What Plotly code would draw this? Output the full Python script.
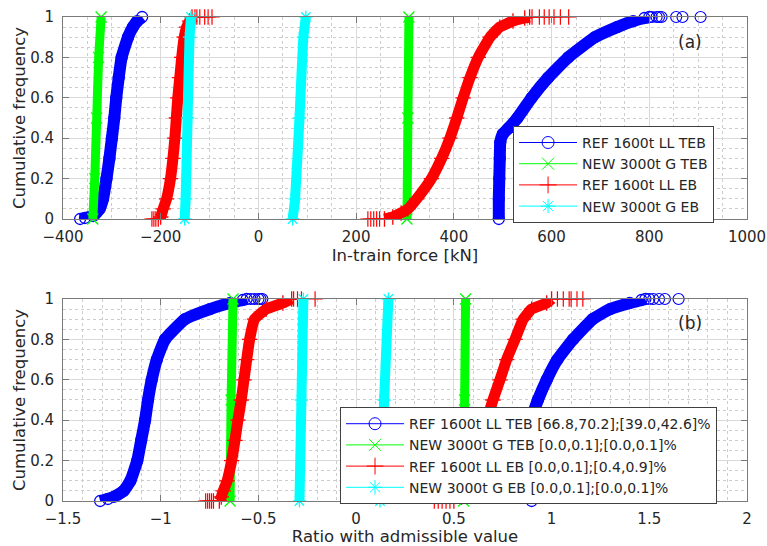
import plotly.graph_objects as go

# ---------------- data ----------------
names = ["REF 1600t LL TEB", "NEW 3000t G TEB", "REF 1600t LL EB", "NEW 3000t G EB"]
names_b = ["REF 1600t LL TEB [66.8,70.2];[39.0,42.6]%",
           "NEW 3000t G TEB [0.0,0.1];[0.0,0.1]%",
           "REF 1600t LL EB [0.0,0.1];[0.4,0.9]%",
           "NEW 3000t G EB [0.0,0.1];[0.0,0.1]%"]

# ---- panel (a): in-train force [kN] ----
a_ref_teb_cmp_cf = [0, 0.005, 0.015, 0.05, 0.1, 0.2, 0.3, 0.4, 0.5, 0.6, 0.7, 0.8, 0.9, 0.95, 0.98, 1]
a_ref_teb_cmp_x = [-365, -355, -338, -325, -318, -311, -305, -300, -295, -291, -286, -280, -267, -257, -248, -238]
a_ref_teb_ten_cf = [0, 0.1, 0.2, 0.3, 0.38, 0.42, 0.45, 0.5, 0.6, 0.7, 0.8, 0.9, 0.95, 0.98, 0.995, 1]
a_ref_teb_ten_x = [492, 492, 493, 494, 495, 500, 512, 530, 559, 593, 634, 689, 734, 767, 790, 800]
a_ref_teb_tail = [805, 815, 820, 825, 855, 868, 905]

a_new_teb_cmp_cf = [0, 0.2, 0.5, 0.8, 1]
a_new_teb_cmp_x = [-339, -335, -331, -327, -322]
a_new_teb_ten_cf = [0, 0.5, 1]
a_new_teb_ten_x = [304, 306, 308]

a_ref_eb_cmp_cf = [0, 0.01, 0.05, 0.1, 0.2, 0.3, 0.4, 0.5, 0.6, 0.7, 0.8, 0.9, 0.95, 0.98, 1]
a_ref_eb_cmp_x = [-205, -200, -195, -188, -180, -175, -171, -168, -165, -161, -157, -152, -147, -141, -136]
a_ref_eb_cmp_head = [-218, -214, -210]
a_ref_eb_cmp_tail = [-130, -126, -120, -110, -103, -95]
a_ref_eb_ten_cf = [0, 0.01, 0.03, 0.05, 0.1, 0.2, 0.3, 0.4, 0.5, 0.6, 0.7, 0.8, 0.9, 0.95, 0.98, 0.995, 1]
a_ref_eb_ten_x = [258, 275, 292, 306, 324, 354, 375, 392, 406, 419, 433, 450, 474, 494, 521, 545, 555]
a_ref_eb_ten_head = [224, 230, 236, 242, 248]
a_ref_eb_ten_tail = [560, 575, 585, 595, 605, 618, 635]

a_new_eb_cmp_cf = [0, 0.1, 0.5, 0.9, 1]
a_new_eb_cmp_x = [-151, -149, -145, -141, -138]
a_new_eb_ten_cf = [0, 0.1, 0.5, 0.9, 1]
a_new_eb_ten_x = [70, 75, 84, 92, 97]

# ---- panel (b): ratio with admissible value ----
b_ref_teb_cmp_cf = [0, 0.01, 0.02, 0.05, 0.1, 0.2, 0.3, 0.4, 0.5, 0.6, 0.7, 0.8, 0.9, 0.95, 0.98, 0.995, 1]
b_ref_teb_cmp_x = [-1.31, -1.27, -1.24, -1.19, -1.155, -1.12, -1.10, -1.08, -1.065, -1.046, -1.02, -0.978, -0.876, -0.748, -0.645, -0.58, -0.56]
b_ref_teb_cmp_tail = [-0.54, -0.52, -0.50, -0.49, -0.48]
b_ref_teb_ten_cf = [0, 0.2, 0.4, 0.45, 0.5, 0.6, 0.7, 0.8, 0.9, 0.95, 0.98, 0.995, 1]
b_ref_teb_ten_x = [0.898, 0.899, 0.902, 0.912, 0.93, 0.975, 1.03, 1.11, 1.21, 1.30, 1.40, 1.46, 1.48]
b_ref_teb_ten_tail = [1.50, 1.52, 1.55, 1.58, 1.65]

b_new_teb_cmp_cf = [0, 0.5, 1]
b_new_teb_cmp_x = [-0.645, -0.64, -0.63]
b_new_teb_ten_cf = [0, 0.5, 1]
b_new_teb_ten_x = [0.55, 0.555, 0.56]

b_ref_eb_cmp_cf = [0, 0.02, 0.05, 0.1, 0.2, 0.3, 0.4, 0.5, 0.6, 0.7, 0.8, 0.9, 0.95, 0.98, 1]
b_ref_eb_cmp_x = [-0.70, -0.69, -0.68, -0.66, -0.637, -0.62, -0.605, -0.588, -0.574, -0.56, -0.545, -0.52, -0.46, -0.375, -0.33]
b_ref_eb_cmp_head = [-0.77, -0.76, -0.75, -0.74, -0.73]
b_ref_eb_cmp_tail = [-0.32, -0.30, -0.28, -0.21]
b_ref_eb_ten_cf = [0, 0.02, 0.05, 0.1, 0.2, 0.3, 0.4, 0.5, 0.6, 0.7, 0.8, 0.9, 0.95, 0.98, 1]
b_ref_eb_ten_x = [0.50, 0.54, 0.57, 0.59, 0.62, 0.645, 0.67, 0.70, 0.736, 0.77, 0.813, 0.855, 0.898, 0.975, 1.0]
b_ref_eb_ten_head = [0.40, 0.42, 0.44, 0.46, 0.48]
b_ref_eb_ten_tail = [1.03, 1.06, 1.09, 1.10, 1.13, 1.16]

b_new_eb_cmp_cf = [0, 0.5, 1]
b_new_eb_cmp_x = [-0.29, -0.28, -0.27]
b_new_eb_ten_cf = [0, 0.5, 1]
b_new_eb_ten_x = [0.122, 0.143, 0.165]

# ---------------- styling ----------------
BLUE, GREEN, RED, CYAN = "#0000FF", "#00FF00", "#FF0000", "#00FFFF"
colors = [BLUE, GREEN, RED, CYAN]
symbols = ["circle-open", "x-thin-open", "cross-thin-open", "asterisk-open"]
widths = [12, 9, 11, 10]
TXT = "#262626"
FONT = "DejaVu Sans, Liberation Sans, Arial, sans-serif"

fig = go.Figure()


def body(x, y, k, xa, ya):
    fig.add_trace(go.Scatter(
        x=x, y=y, xaxis=xa, yaxis=ya, mode="lines+markers", showlegend=False,
        line=dict(color=colors[k], width=widths[k], shape="spline", smoothing=0.4),
        marker=dict(symbol=symbols[k], size=11, color=colors[k],
                    line=dict(color=colors[k], width=1.3)),
        cliponaxis=False, hoverinfo="skip"))


def dots(x, yval, k, xa, ya):
    fig.add_trace(go.Scatter(
        x=x, y=[yval] * len(x), xaxis=xa, yaxis=ya, mode="markers", showlegend=False,
        marker=dict(symbol=symbols[k], size=11, color=colors[k],
                    line=dict(color=colors[k], width=1.2)),
        cliponaxis=False, hoverinfo="skip"))


# panel (a)
body(a_ref_teb_cmp_x, a_ref_teb_cmp_cf, 0, "x", "y")
body(a_ref_teb_ten_x, a_ref_teb_ten_cf, 0, "x", "y")
dots(a_ref_teb_tail, 1, 0, "x", "y")
body(a_new_teb_cmp_x, a_new_teb_cmp_cf, 1, "x", "y")
body(a_new_teb_ten_x, a_new_teb_ten_cf, 1, "x", "y")
body(a_ref_eb_cmp_x, a_ref_eb_cmp_cf, 2, "x", "y")
dots(a_ref_eb_cmp_head, 0, 2, "x", "y")
dots(a_ref_eb_cmp_tail, 1, 2, "x", "y")
body(a_ref_eb_ten_x, a_ref_eb_ten_cf, 2, "x", "y")
dots(a_ref_eb_ten_head, 0, 2, "x", "y")
dots(a_ref_eb_ten_tail, 1, 2, "x", "y")
body(a_new_eb_cmp_x, a_new_eb_cmp_cf, 3, "x", "y")
body(a_new_eb_ten_x, a_new_eb_ten_cf, 3, "x", "y")

# panel (b)
body(b_ref_teb_cmp_x, b_ref_teb_cmp_cf, 0, "x2", "y2")
dots(b_ref_teb_cmp_tail, 1, 0, "x2", "y2")
body(b_ref_teb_ten_x, b_ref_teb_ten_cf, 0, "x2", "y2")
dots(b_ref_teb_ten_tail, 1, 0, "x2", "y2")
body(b_new_teb_cmp_x, b_new_teb_cmp_cf, 1, "x2", "y2")
body(b_new_teb_ten_x, b_new_teb_ten_cf, 1, "x2", "y2")
body(b_ref_eb_cmp_x, b_ref_eb_cmp_cf, 2, "x2", "y2")
dots(b_ref_eb_cmp_head, 0, 2, "x2", "y2")
dots(b_ref_eb_cmp_tail, 1, 2, "x2", "y2")
body(b_ref_eb_ten_x, b_ref_eb_ten_cf, 2, "x2", "y2")
dots(b_ref_eb_ten_head, 0, 2, "x2", "y2")
dots(b_ref_eb_ten_tail, 1, 2, "x2", "y2")
body(b_new_eb_cmp_x, b_new_eb_cmp_cf, 3, "x2", "y2")
body(b_new_eb_ten_x, b_new_eb_ten_cf, 3, "x2", "y2")

# legend entries (thin line + marker, like the MATLAB legend)
for k in range(4):
    fig.add_trace(go.Scatter(
        x=[None], y=[None], xaxis="x", yaxis="y", mode="lines+markers", name=names[k],
        legend="legend", line=dict(color=colors[k], width=1),
        marker=dict(symbol=symbols[k], size=12, color=colors[k],
                    line=dict(color=colors[k], width=1))))
for k in range(4):
    fig.add_trace(go.Scatter(
        x=[None], y=[None], xaxis="x2", yaxis="y2", mode="lines+markers", name=names_b[k],
        legend="legend2", line=dict(color=colors[k], width=1),
        marker=dict(symbol=symbols[k], size=12, color=colors[k],
                    line=dict(color=colors[k], width=1))))

AX = "#7a7a7a"
GRID = "#dadada"
MGRID = "#cccccc"


def xax(rng, dtick, mdtick, title, anchor):
    return dict(range=rng, dtick=dtick, tick0=rng[0], showline=True, linecolor=AX, linewidth=1,
                mirror="ticks", ticks="inside", ticklen=6, tickcolor=AX,
                showgrid=True, gridcolor=GRID, gridwidth=1, zeroline=False,
                minor=dict(dtick=mdtick, tick0=rng[0], showgrid=True, gridcolor=MGRID,
                           griddash="dot", gridwidth=1),
                tickfont=dict(size=15, color=TXT, family=FONT), ticklabelstandoff=4,
                title=dict(text=title, font=dict(size=16.5, color=TXT, family=FONT), standoff=4),
                anchor=anchor, automargin=False)


def yax(domain, anchor):
    return dict(range=[0, 1], dtick=0.2, tick0=0, domain=domain, showline=True, linecolor=AX,
                linewidth=1, mirror="ticks", ticks="inside", ticklen=6, tickcolor=AX,
                showgrid=True, gridcolor=GRID, gridwidth=1, zeroline=False,
                minor=dict(dtick=0.05, tick0=0, showgrid=True, gridcolor=MGRID, griddash="dot",
                           gridwidth=1),
                tickfont=dict(size=15, color=TXT, family=FONT), ticklabelstandoff=5,
                title=dict(text="Cumulative frequency",
                           font=dict(size=16.5, color=TXT, family=FONT), standoff=0),
                anchor=anchor, automargin=False)


fig.update_layout(
    width=767, height=546,
    margin=dict(l=63, r=20, t=17, b=45),
    paper_bgcolor="white", plot_bgcolor="white",
    font=dict(family=FONT, color=TXT),
    xaxis=xax([-400, 1000], 200, 50, "In-train force [kN]", "y"),
    yaxis=yax([0.5826, 1.0], "x"),
    xaxis2=xax([-1.5, 2], 0.5, 0.1, "Ratio with admissible value", "y2"),
    yaxis2=yax([0.0, 0.4174], "x2"),
    legend=dict(x=0.658, y=0.775, xanchor="left", yanchor="top", bgcolor="white",
                bordercolor="#404040", borderwidth=1, font=dict(size=14, color=TXT, family=FONT),
                tracegroupgap=0, itemwidth=58),
    legend2=dict(x=0.405, y=0.194, xanchor="left", yanchor="top", bgcolor="white",
                 bordercolor="#404040", borderwidth=1, font=dict(size=14, color=TXT, family=FONT),
                 tracegroupgap=0, itemwidth=58),
    annotations=[
        dict(text="(a)", x=0.9167, y=0.948, xref="paper", yref="paper", showarrow=False,
             xanchor="center", yanchor="middle", font=dict(size=17, color=TXT, family=FONT)),
        dict(text="(b)", x=0.9167, y=0.368, xref="paper", yref="paper", showarrow=False,
             xanchor="center", yanchor="middle", font=dict(size=17, color=TXT, family=FONT)),
    ],
    showlegend=True,
)

fig.write_html("out.html")
